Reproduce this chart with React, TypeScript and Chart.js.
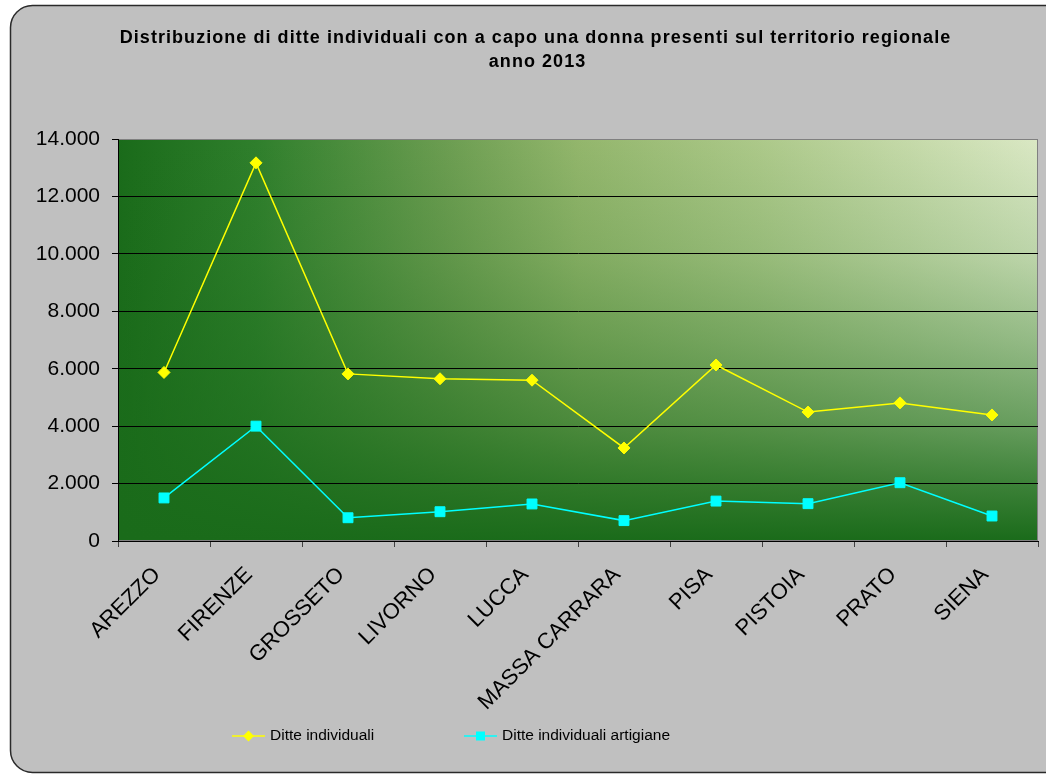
import React, { useEffect, useRef } from "react";
import { Chart, registerables } from "chart.js";

Chart.register(...registerables);

const categories = [
  "AREZZO",
  "FIRENZE",
  "GROSSETO",
  "LIVORNO",
  "LUCCA",
  "MASSA CARRARA",
  "PISA",
  "PISTOIA",
  "PRATO",
  "SIENA",
];
const ditteIndividuali = [5870, 13170, 5820, 5650, 5600, 3240, 6130, 4490, 4810, 4390];
const ditteArtigiane = [1500, 4000, 810, 1020, 1290, 710, 1390, 1300, 2030, 870];
const seriesLabels = ["Ditte individuali", "Ditte individuali artigiane"];
const seriesColors = ["#ffff00", "#00ffff"];
const titleLines = [
  "Distribuzione di ditte individuali con a capo una donna presenti sul territorio regionale",
  "anno 2013",
];
const yMin = 0;
const yMax = 14000;
const yStep = 2000;

const FONT = "'Liberation Sans', Arial, sans-serif";

function fmt(v: number): string {
  return String(Math.round(v)).replace(/\B(?=(\d{3})+(?!\d))/g, ".");
}

function spacedText(ctx: CanvasRenderingContext2D, text: string, cx: number, y: number, spacing: number) {
  const chars = Array.from(text);
  const widths = chars.map((c) => ctx.measureText(c).width);
  const total = widths.reduce((s, w) => s + w, 0) + spacing * (chars.length - 1);
  let x = cx - total / 2;
  ctx.textAlign = "left";
  chars.forEach((c, i) => {
    ctx.fillText(c, x, y);
    x += widths[i] + spacing;
  });
}

const framePlugin = {
  id: "framePlugin",
  beforeDraw(chart: any) {
    const { ctx, chartArea: a, width, height } = chart;
    ctx.save();
    ctx.fillStyle = "#ffffff";
    ctx.fillRect(0, 0, width, height);
    // outer rounded panel
    ctx.beginPath();
    ctx.roundRect(10.5, 5.5, width + 10, height - 7, 22);
    ctx.fillStyle = "#c0c0c0";
    ctx.fill();
    ctx.lineWidth = 1.5;
    ctx.strokeStyle = "#2a2a2a";
    ctx.stroke();

    // plot area gradient
    const w = a.right - a.left;
    const h = a.bottom - a.top;
    const hg = ctx.createLinearGradient(a.left, 0, a.right, 0);
    hg.addColorStop(0, "#1a6b1a");
    hg.addColorStop(0.15, "#2f7f2c");
    hg.addColorStop(0.35, "#6a9c50");
    hg.addColorStop(0.5, "#93b66c");
    hg.addColorStop(0.7, "#adc98a");
    hg.addColorStop(1, "#dae8c4");
    ctx.fillStyle = hg;
    ctx.fillRect(a.left, a.top, w, h);
    const vg = ctx.createLinearGradient(0, a.top, 0, a.bottom);
    vg.addColorStop(0, "rgba(26,107,26,0)");
    vg.addColorStop(0.3, "rgba(26,107,26,0.16)");
    vg.addColorStop(0.5, "rgba(26,107,26,0.36)");
    vg.addColorStop(0.7, "rgba(26,107,26,0.58)");
    vg.addColorStop(0.86, "rgba(26,107,26,0.82)");
    vg.addColorStop(1, "rgba(26,107,26,1)");
    ctx.fillStyle = vg;
    ctx.fillRect(a.left, a.top, w, h);
    ctx.strokeStyle = "#808080";
    ctx.lineWidth = 1;
    ctx.strokeRect(a.left + 0.5, a.top + 0.5, w - 1, h - 1);

    // title
    ctx.fillStyle = "#000000";
    ctx.font = `bold 18px ${FONT}`;
    ctx.textBaseline = "middle";
    spacedText(ctx, titleLines[0], 535, 38, 1.05);
    spacedText(ctx, titleLines[1], 537, 62, 1.05);
    ctx.restore();
  },
  afterDraw(chart: any) {
    const { ctx } = chart;
    const y = 736;
    const items = [
      { x: 232, textX: 270 },
      { x: 464, textX: 502 },
    ];
    ctx.save();
    chart.data.datasets.forEach((ds: any, i: number) => {
      const it = items[i];
      const color = ds.borderColor;
      ctx.strokeStyle = color;
      ctx.lineWidth = 1.5;
      ctx.beginPath();
      ctx.moveTo(it.x, y);
      ctx.lineTo(it.x + 33, y);
      ctx.stroke();
      ctx.fillStyle = color;
      const cx = it.x + 16.5;
      if (ds.pointStyle === "rectRot") {
        ctx.beginPath();
        ctx.moveTo(cx, y - 5.5);
        ctx.lineTo(cx + 5.5, y);
        ctx.lineTo(cx, y + 5.5);
        ctx.lineTo(cx - 5.5, y);
        ctx.closePath();
        ctx.fill();
      } else {
        ctx.fillRect(cx - 4.5, y - 4.5, 9, 9);
      }
      ctx.fillStyle = "#000000";
      ctx.font = `15.5px ${FONT}`;
      ctx.textBaseline = "middle";
      ctx.textAlign = "left";
      ctx.fillText(ds.label, it.textX, y);
    });
    ctx.restore();
  },
};

export default function App() {
  const ref = useRef<HTMLCanvasElement | null>(null);

  useEffect(() => {
    document.body.style.margin = "0";
    const canvas = ref.current;
    if (!canvas) return;
    const chart = new Chart(canvas, {
      type: "line",
      data: {
        labels: categories,
        datasets: [
          {
            label: seriesLabels[0],
            data: ditteIndividuali,
            borderColor: seriesColors[0],
            backgroundColor: seriesColors[0],
            borderWidth: 1.5,
            pointStyle: "rectRot",
            pointRadius: 6,
            pointBorderWidth: 1,
            pointBackgroundColor: seriesColors[0],
            pointBorderColor: seriesColors[0],
            tension: 0,
          },
          {
            label: seriesLabels[1],
            data: ditteArtigiane,
            borderColor: seriesColors[1],
            backgroundColor: seriesColors[1],
            borderWidth: 1.5,
            pointStyle: "rect",
            pointRadius: 7,
            pointBorderWidth: 1,
            pointBackgroundColor: seriesColors[1],
            pointBorderColor: seriesColors[1],
            tension: 0,
          },
        ],
      },
      options: {
        responsive: false,
        animation: false,
        devicePixelRatio: 1,
        layout: { padding: { left: 24, right: 6, top: 139, bottom: 0 } },
        plugins: {
          legend: { display: false },
          tooltip: { enabled: false },
          title: { display: false },
        },
        scales: {
          x: {
            offset: true,
            grid: {
              offset: true,
              drawOnChartArea: false,
              drawTicks: true,
              tickLength: 6,
              color: "#404040",
            },
            border: { display: true, color: "#000000", width: 1 },
            ticks: {
              autoSkip: false,
              maxRotation: 45,
              minRotation: 45,
              padding: 15,
              labelOffset: -7,
              color: "#000000",
              font: { family: FONT, size: 22 },
            },
            afterFit: (scale: any) => {
              scale.height = 233;
            },
          },
          y: {
            min: yMin,
            max: yMax,
            grid: {
              color: (c: any) => (c.tick && c.tick.value === yMax ? "#808080" : "#000000"),
              tickLength: 6,
              tickColor: "#000000",
              lineWidth: 1,
            },
            border: { display: true, color: "#000000", width: 1 },
            ticks: {
              stepSize: yStep,
              padding: 12,
              color: "#000000",
              font: { family: FONT, size: 21 },
              callback: (v: any) => fmt(Number(v)),
            },
            afterFit: (scale: any) => {
              scale.width = 94;
            },
          },
        },
      },
      plugins: [framePlugin],
    });
    return () => chart.destroy();
  }, []);

  return (
    <div style={{ width: 1046, height: 774 }}>
      <canvas ref={ref} width={1046} height={774} style={{ display: "block" }} />
    </div>
  );
}
